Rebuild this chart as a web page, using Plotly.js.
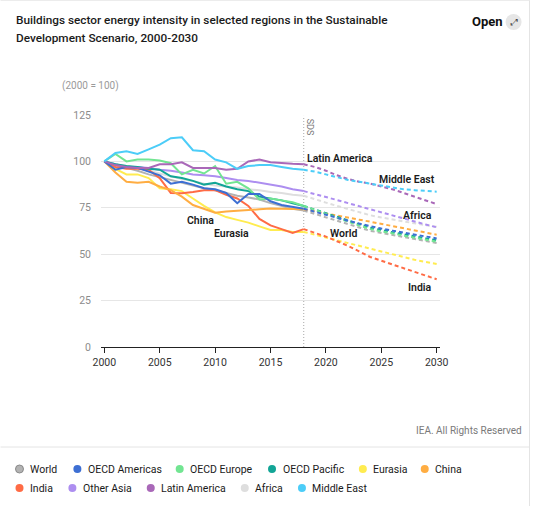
<!DOCTYPE html>
<html><head><meta charset="utf-8">
<script src="https://cdn.plot.ly/plotly-3.0.1.min.js"></script>
<style>html,body{margin:0;padding:0;background:#fff}#chart{width:539px;height:506px}</style>
</head><body><div id="chart"></div>
<script>
// ---- data ----
const histYears = [2000,2001,2002,2003,2004,2005,2006,2007,2008,2009,2010,2011,2012,2013,2014,2015,2016,2017,2018];
const projYears = [2018,2019,2020,2021,2022,2023,2024,2025,2026,2027,2028,2029,2030];

const regions = ['World','OECD Americas','OECD Europe','OECD Pacific','Eurasia','China','India','Other Asia','Latin America','Africa','Middle East'];
const colors  = ['#b3b3b3','#3d6fd3','#72e592','#12a596','#ffec50','#ffad42','#ff6b45','#ad8ef0','#a968b8','#dedede','#4ccdf8'];

const worldHist   = [100,98,96.5,95,93,91.5,90,88.5,87,85.5,84.5,83,81.5,80.5,79.5,77.5,76,74.5,73.5];
const worldProj   = [73.5,71.6,69.8,68,66.2,64.4,62.6,61.5,60.4,59.3,58.2,57.1,56];
const oecdAmHist  = [100,95.5,97,96.5,94.5,92.5,88,89,87.5,85.5,85,83,77.5,82.5,82.5,78.5,76.5,75.5,74.5];
const oecdAmProj  = [74.5,72.8,71.2,69.6,68,66.5,65,63.8,62.7,61.6,60.5,59.5,58.5];
const oecdEuHist  = [100,104,100,101,101,100.5,99,93,95.5,93.5,97.5,88,89,85.5,79.5,80,79,78,76];
const oecdEuProj  = [76,73.8,71.7,69.6,67.5,65.5,63.5,62.3,61.1,60,58.8,57.7,56.7];
const oecdPaHist  = [100,98.5,97.5,97,96,95.5,92,91,89.5,87.5,88.5,86.5,85,84,81,80,79,77.5,76];
const oecdPaProj  = [76,74,72,70,68.2,66.2,64.3,63,61.8,60.6,59.5,58.5,57.5];
const eurasiaHist = [100,96,93,93,91,85.5,85,84,80,76,72.5,70,68.5,67,65,63,63,62,62];
const eurasiaProj = [62,60.5,59,57.5,56,54.3,52.8,51.3,49.8,48.4,47,45.8,44.7];
const chinaHist   = [100,94,89,88.5,89,86.5,84.5,81,76.5,74.5,72.3,73,73.3,73.8,74.2,74.6,74.6,74.5,74.2];
const chinaProj   = [74.2,73,71.9,70.8,69.7,68.6,67.5,66.3,65.1,63.9,62.7,61.5,60.5];
const indiaHist   = [100,97,96,96,95.5,91,83,82.8,83.5,84.5,84.5,82,80,76,69,65.5,63.5,61.5,63.5];
const indiaProj   = [63.5,61.5,59.5,57,54.5,51.5,48.5,46.5,44.5,42.5,40.5,38.5,36.5];
const otherAsiaHist = [100,98.5,97,97,96.5,95.5,95,94,93,92.5,92,91,90,89.5,88.5,87.5,86.5,85,84];
const otherAsiaProj = [84,82.5,80.8,79.2,77.5,75.8,74.2,72.5,70.9,69.3,67.6,66,64.5];
const latamHist   = [100,98,97,96.5,96.5,98.5,98.5,99.5,96.5,96.5,96.5,95.5,96,100,101,99.5,99,98.7,98.5];
const latamProj   = [98.5,97,95,92.5,90.5,89,88,86.5,85,83,81,79,77];
const africaHist  = [100,98.5,97.5,96.5,95,93.5,92,90.5,89.5,88,87,86.5,86,85,84.5,83.5,83,82,81.5];
const africaProj  = [81.5,79.5,77.8,76,74.3,72.6,71,69.8,68.7,67.6,66.6,65.6,64.8];
const mideastHist = [100,104.5,105.5,104,106.5,109,112.5,113,106,105.5,101,99.5,96,97.5,98,98,97,96,95.5];
const mideastProj = [95.5,94.5,93,91.5,90,89,88,87,86,85,84.5,84,83.7];

const histSeries = [worldHist,oecdAmHist,oecdEuHist,oecdPaHist,eurasiaHist,chinaHist,indiaHist,otherAsiaHist,latamHist,africaHist,mideastHist];
const projSeries = [worldProj,oecdAmProj,oecdEuProj,oecdPaProj,eurasiaProj,chinaProj,indiaProj,otherAsiaProj,latamProj,africaProj,mideastProj];

const titleLines = ['Buildings sector energy intensity in selected regions in the Sustainable', 'Development Scenario, 2000-2030'];
const xTicks = [2000,2005,2010,2015,2020,2025,2030];
const yTicks = [0,25,50,75,100,125];
const sdsYear = 2018;

// ---- layout helpers (pixel -> paper) ----
const W = 539, H = 506;
const M = {l:100.66, r:98.7, t:115, b:159};
const PW = W - M.l - M.r, PH = H - M.t - M.b;
const px = v => (v - M.l) / PW;
const py = v => (H - M.b - v) / PH;

// ---- traces ----
const drawOrder = [9,0,7,4,6,5,3,2,1,8,10];
const traces = [];
drawOrder.forEach(i => {
  traces.push({x: histYears, y: histSeries[i], type:'scatter', mode:'lines', name: regions[i],
    line:{color: colors[i], width:2}, showlegend:false, hoverinfo:'skip'});
});
drawOrder.forEach(i => {
  traces.push({x: projYears, y: projSeries[i], type:'scatter', mode:'lines', name: regions[i],
    line:{color: colors[i], width:2, dash:'4px,3px'}, showlegend:false, hoverinfo:'skip'});
});

// ---- annotations ----
const F = 'Roboto, "Noto Sans", sans-serif';
const ann = [];
const lbl = (text, x, y, xanchor) => ann.push({text, x, y, xref:'x', yref:'y', xanchor, yanchor:'middle',
  showarrow:false, font:{family:F, size:10.5, color:'#1a1a1a', weight:600}});
lbl('Latin America', 2018.15, 101.8, 'left');
lbl('Middle East', 2030, 90, 'right');
lbl('Africa', 2029.8, 71, 'right');
lbl('World', 2020.2, 61.4, 'left');
lbl('India', 2029.8, 31.8, 'right');
lbl('China', 2007.3, 67.9, 'left');
lbl('Eurasia', 2009.7, 61.4, 'left');

// title (two lines)
titleLines.forEach((t,k) => ann.push({text:t, x:px(13), xref:'paper', y:py(20 + 18*k), yref:'paper',
  xanchor:'left', yanchor:'middle', showarrow:false, font:{family:F, size:11.8, color:'#1a1a1a', weight:500}}));

ann.push({text:'SDS', x:sdsYear, xref:'x', y:1, yref:'paper', xshift:7, yshift:-2, textangle:90,
  xanchor:'center', yanchor:'top', showarrow:false, font:{family:F, size:9, color:'#777'}});
ann.push({text:'(2000 = 100)', x:px(60), xref:'paper', y:py(86), yref:'paper', xanchor:'left', yanchor:'middle',
  showarrow:false, font:{family:F, size:10, color:'#9a9a9a'}});
ann.push({text:'IEA. All Rights Reserved', x:px(524), xref:'paper', y:py(430), yref:'paper', xanchor:'right', yanchor:'middle',
  showarrow:false, font:{family:F, size:10, color:'#7a7a7a'}});
ann.push({text:'<b>Open</b>', x:px(505), xref:'paper', y:py(22), yref:'paper', xanchor:'right', yanchor:'middle',
  showarrow:false, font:{family:F, size:13, color:'#111'}});
ann.push({text:'⤢', x:px(514), xref:'paper', y:py(22), yref:'paper', xanchor:'center', yanchor:'middle',
  showarrow:false, font:{family:'DejaVu Sans', size:9, color:'#444'}});

// legend (manual)
const legendMarkX = [19,77,179.5,272,363,425, 19,72,150.5,244.7,302];
const legendRowY  = [469,469,469,469,469,469, 488,488,488,488,488];
const shapes = [];
regions.forEach((r,i) => {
  const cx = px(legendMarkX[i]), cy = py(legendRowY[i]);
  shapes.push({type:'circle', xref:'paper', yref:'paper', xsizemode:'pixel', ysizemode:'pixel',
    xanchor:cx, yanchor:cy, x0:-4, x1:4, y0:-4, y1:4,
    fillcolor: colors[i], line:{color: i===0 ? '#8a8a8a' : colors[i], width: i===0 ? 1 : 0}});
  ann.push({text:r, x:px(legendMarkX[i]+8.5), xref:'paper', y:cy, yref:'paper', xanchor:'left', yanchor:'middle',
    showarrow:false, font:{family:F, size:10.5, color:'#1a1a1a'}});
});

// sds dotted line
shapes.push({type:'line', xref:'x', yref:'y', x0:sdsYear, x1:sdsYear, y0:0, y1:124.5,
  line:{color:'#a8a8a8', width:1, dash:'1px,2px'}, layer:'below'});
// card borders / separator
shapes.push({type:'line', xref:'paper', yref:'paper', x0:px(0), x1:px(530), y0:py(447), y1:py(447), line:{color:'#e4e4e4', width:1}});
shapes.push({type:'line', xref:'paper', yref:'paper', x0:px(530), x1:px(530), y0:py(0), y1:py(506), line:{color:'#e4e4e4', width:1}});
shapes.push({type:'line', xref:'paper', yref:'paper', x0:px(0), x1:px(530), y0:py(0.5), y1:py(0.5), line:{color:'#ececec', width:1}});
// open button circle
shapes.push({type:'circle', xref:'paper', yref:'paper', xsizemode:'pixel', ysizemode:'pixel',
  xanchor:px(514), yanchor:py(22), x0:-8, x1:8, y0:-8, y1:8, fillcolor:'#e6e6e6', line:{width:0}});

const layout = {
  width:W, height:H, margin:M,
  paper_bgcolor:'#fff', plot_bgcolor:'#fff',
  font:{family:F},
  xaxis:{range:[1999.7,2030.3], tickvals:xTicks, showgrid:false, zeroline:false, showline:true,
    linecolor:'#222', linewidth:1, ticks:'outside', ticklen:5, tickcolor:'#222',
    tickfont:{family:F, size:10.5, color:'#333'}, fixedrange:true},
  yaxis:{range:[0,125], tickvals:yTicks, showgrid:true, gridcolor:'#e6e6e6', zeroline:false, showline:false,
    ticks:'', ticklabelstandoff:9, tickfont:{family:F, size:10.5, color:'#8c8c8c'}, fixedrange:true},
  annotations:ann, shapes:shapes, showlegend:false
};
Plotly.newPlot('chart', traces, layout, {displayModeBar:false, staticPlot:true});
</script></body></html>
